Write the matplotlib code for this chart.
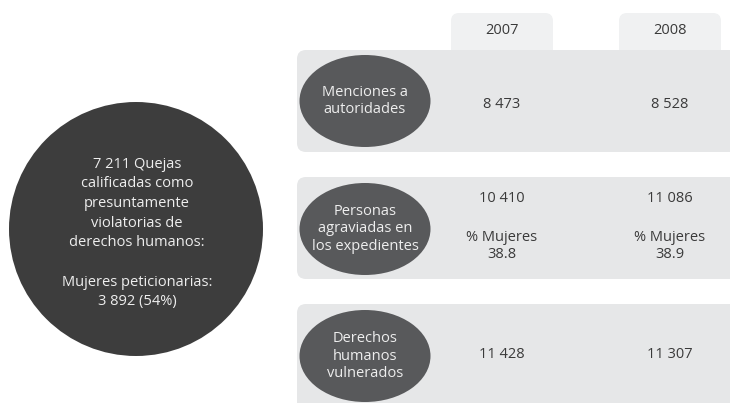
import matplotlib
matplotlib.use("Agg")
import matplotlib.pyplot as plt
from matplotlib.patches import FancyBboxPatch, Ellipse, Circle

years = ["2007", "2008"]
row_labels = ["Menciones a\nautoridades", "Personas\nagraviadas en\nlos expedientes", "Derechos\nhumanos\nvulnerados"]
values_2007 = ["8 473", "10 410", "11 428"]
values_2008 = ["8 528", "11 086", "11 307"]
pct_mujeres = ["38.8", "38.9"]
center_text = "7 211 Quejas\ncalificadas como\npresuntamente\nviolatorias de\nderechos humanos:\n\nMujeres peticionarias:\n3 892 (54%)"

plt.rcParams['font.family'] = ['Open Sans', 'DejaVu Sans']

fig = plt.figure(figsize=(7.30, 4.03), dpi=100)
ax = fig.add_axes([0, 0, 1, 1])
ax.set_xlim(0, 730)
ax.set_ylim(403, 0)
ax.axis('off')

panel_c = "#e6e7e8"
tab_c = "#f0f1f2"
ell_c = "#58595b"
txt_c = "#3a3a3a"
fs = 10.5
fw = 'normal'

# year tabs
tab_x = [451, 619]
col_x = [502, 670]
for tx, cx, y in zip(tab_x, col_x, years):
    ax.add_patch(FancyBboxPatch((tx, 13), 102, 50, boxstyle="round,pad=0,rounding_size=8",
                                fc=tab_c, ec="none", zorder=1))
    ax.text(cx, 31, y, ha='center', va='center', fontsize=fs, color=txt_c, fontweight=fw, zorder=5)

# panels
panels = [(50, 152), (177, 279), (304, 412)]
centers = [101, 229, 356]
for (y0, y1), cy, lab in zip(panels, centers, row_labels):
    ax.add_patch(FancyBboxPatch((297, y0), 460, y1 - y0, boxstyle="round,pad=0,rounding_size=9",
                                fc=panel_c, ec="none", zorder=2))
    ax.add_patch(Ellipse((365, cy), 131, 92, fc=ell_c, ec="none", zorder=3))
    ax.text(365, cy, lab, ha='center', va='center', fontsize=fs, color="#eeeeee",
            linespacing=1.23, fontweight=fw, zorder=5)

# values
def val(x, y, s):
    ax.text(x, y, s, ha='center', va='center', fontsize=fs, color=txt_c, fontweight=fw, zorder=5)

val(col_x[0], 104, values_2007[0])
val(col_x[1], 104, values_2008[0])
val(col_x[0], 199, values_2007[1])
val(col_x[1], 199, values_2008[1])
for cx, p in zip(col_x, pct_mujeres):
    ax.text(cx, 246, "% Mujeres\n" + p, ha='center', va='center', fontsize=fs, color=txt_c,
            linespacing=1.21, fontweight=fw, zorder=5)
val(col_x[0], 354, values_2007[2])
val(col_x[1], 354, values_2008[2])

# big circle
ax.add_patch(Circle((136, 229), 127, fc="#3d3d3d", ec="none", zorder=3))
ax.text(137, 233, center_text, ha='center', va='center', fontsize=fs, color="#eeeeee",
        linespacing=1.42, fontweight=fw, zorder=5)

fig.savefig("out.png", dpi=100)
